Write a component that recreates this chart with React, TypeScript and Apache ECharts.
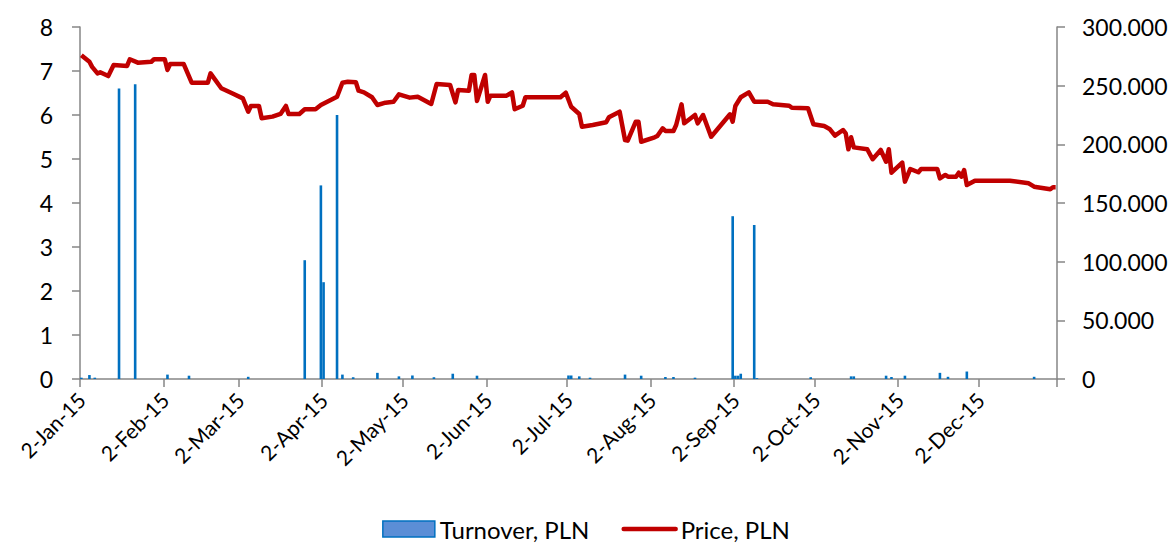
import React, { useEffect, useRef } from "react";
import * as echarts from "echarts";

// Axis domain: every calendar day from 2 Jan 2015 to 30 Dec 2015
const firstDay = "2015-01-02";
const lastDay = "2015-12-30";

// Price, PLN (right axis) — line vertices
const priceDates = [
  "01-02", "01-05", "01-06", "01-08", "01-09", "01-12", "01-14", "01-19", "01-20", "01-23",
  "01-28", "01-29", "02-02", "02-03", "02-04", "02-09", "02-12", "02-18", "02-19", "02-23",
  "02-27", "03-03", "03-05", "03-06", "03-09", "03-10", "03-14", "03-17", "03-19", "03-20",
  "03-24", "03-26", "03-30", "04-01", "04-07", "04-09", "04-11", "04-14", "04-15", "04-17",
  "04-20", "04-22", "04-25", "04-28", "04-30", "05-04", "05-07", "05-12", "05-14", "05-19",
  "05-21", "05-22", "05-26", "05-27", "05-28", "05-29", "06-01", "06-02", "06-03", "06-09",
  "06-11", "06-12", "06-15", "06-16", "06-29", "07-01", "07-03", "07-06", "07-07", "07-11",
  "07-16", "07-17", "07-21", "07-23", "07-24", "07-27", "07-28", "07-29", "08-03", "08-04",
  "08-06", "08-07", "08-10", "08-11", "08-13", "08-14", "08-18", "08-19", "08-21", "08-24",
  "08-31", "09-01", "09-02", "09-04", "09-07", "09-09", "09-14", "09-16", "09-22", "09-23",
  "09-29", "10-01", "10-05", "10-07", "10-09", "10-12", "10-13", "10-14", "10-15", "10-16",
  "10-21", "10-23", "10-26", "10-28", "10-29", "10-30", "11-03", "11-04", "11-06", "11-09",
  "11-10", "11-16", "11-17", "11-19", "11-20", "11-23", "11-24", "11-25", "11-26", "11-27",
  "11-30", "12-13", "12-20", "12-22", "12-28", "12-29", "12-30",
];
const priceValues = [
  276, 270.4, 266, 260.5, 261.4, 258.2, 267.6, 266.8, 272.5, 269.6,
  270.4, 272.5, 272.5, 263.4, 268.5, 268.5, 252.5, 252.5, 260.5, 247.8,
  243.5, 239.2, 227.8, 232.7, 232.7, 222.2, 223.6, 225.9, 232.7, 225.9,
  225.9, 229.9, 229.9, 233.5, 240.6, 252.5, 253.4, 252.9, 245.7, 244.3,
  240.1, 233.5, 235.5, 236.3, 242.6, 239.8, 240.6, 234.4, 251.4, 250.6,
  235.8, 246.3, 245.7, 259.1, 259.1, 237, 259.1, 236.3, 241.5, 241.5,
  244.3, 229.9, 232.9, 240.1, 240.1, 244, 232, 225.9, 215, 216.5,
  218.8, 223, 227.8, 203.7, 203.1, 219.3, 219.3, 202.2, 206, 207.1,
  213.7, 211.4, 211.4, 216.5, 234.1, 217.9, 225, 217.9, 225, 206.5,
  225.6, 219.3, 232.7, 240.1, 244.3, 236.3, 236.3, 234.1, 232.9, 231.2,
  230.7, 217.1, 215.6, 213.1, 207.4, 212.2, 209.4, 195.8, 206, 197.4,
  195.8, 187.3, 195.2, 185.2, 195.8, 175.8, 184.4, 168.2, 179, 176.2,
  179, 179, 171, 173.9, 172.4, 172.4, 175.8, 172.5, 178.1, 165.3,
  169, 169, 166.8, 163.9, 161.7, 163.4, 163.4,
];

// Turnover, PLN (left axis)
const turnoverDates = [
  "01-02", "01-05", "01-07", "01-16", "01-22", "02-03", "02-11", "03-05", "03-26", "04-01",
  "04-02", "04-07", "04-09", "04-13", "04-22", "04-30", "05-05", "05-13", "05-20", "05-29",
  "07-02", "07-03", "07-06", "07-10", "07-23", "07-29", "08-07", "08-10", "08-18", "09-01",
  "09-02", "09-03", "09-04", "09-09", "09-10", "09-30", "10-15", "10-16", "10-28", "10-30",
  "11-04", "11-17", "11-20", "11-27", "12-22",
];
const turnoverValues = [
  0.03, 0.09, 0.03, 6.6, 6.7, 0.1, 0.075, 0.05, 2.7, 4.4,
  2.2, 6.0, 0.1, 0.04, 0.14, 0.06, 0.08, 0.04, 0.12, 0.075,
  0.08, 0.08, 0.06, 0.03, 0.1, 0.075, 0.045, 0.045, 0.03, 3.7,
  0.075, 0.075, 0.12, 3.5, 0.02, 0.04, 0.06, 0.06, 0.075, 0.045,
  0.075, 0.14, 0.05, 0.17, 0.05,
];

const leftTicks = { min: 0, max: 8, interval: 1 };
const rightTicks = { min: 0, max: 300, interval: 50 };

const monthNames = ["Jan", "Feb", "Mar", "Apr", "May", "Jun", "Jul", "Aug", "Sep", "Oct", "Nov", "Dec"];

function buildDays(): string[] {
  const out: string[] = [];
  const start = Date.parse(firstDay + "T00:00:00Z");
  const end = Date.parse(lastDay + "T00:00:00Z");
  for (let t = start; t <= end; t += 86400000) {
    out.push(new Date(t).toISOString().slice(0, 10));
  }
  return out;
}

function fmtDay(iso: string): string {
  const m = parseInt(iso.slice(5, 7), 10);
  const d = parseInt(iso.slice(8, 10), 10);
  return d + "-" + monthNames[m - 1] + "-" + iso.slice(2, 4);
}

const FONT = "Lato, 'Open Sans', sans-serif";

export default function App() {
  const ref = useRef<HTMLDivElement>(null);

  useEffect(() => {
    if (!ref.current) return;
    const chart = echarts.init(ref.current, undefined, { renderer: "svg" });
    const days = buildDays();
    const priceMap = new Map<string, number>();
    priceDates.forEach((d, i) => priceMap.set("2015-" + d, priceValues[i]));
    const turnMap = new Map<string, number>();
    turnoverDates.forEach((d, i) => turnMap.set("2015-" + d, turnoverValues[i]));
    const lineData = days.map((d) => (priceMap.has(d) ? priceMap.get(d)! : null));
    const barData = days.map((d) => (turnMap.has(d) ? turnMap.get(d)! : null));
    const isSecond = (idx: number) => days[idx].slice(8, 10) === "02";

    const axisLine = { show: true, lineStyle: { color: "#868686", width: 1.5 } };

    chart.setOption({
      animation: false,
      textStyle: { fontFamily: FONT },
      grid: { left: 80, right: 115, top: 27, bottom: 166, containLabel: false },
      legend: {
        bottom: 3,
        padding: 0,
        left: "center",
        itemWidth: 52,
        itemHeight: 16,
        itemGap: 32,
        textStyle: { fontSize: 24, lineHeight: 26, color: "#000", fontFamily: FONT },
        data: [
          {
            name: "Turnover, PLN",
            icon: "rect",
            itemStyle: { color: "#5B8ED6", borderColor: "#0070C0", borderWidth: 1.5 },
          },
          {
            name: "Price, PLN",
            itemStyle: { opacity: 0, color: "rgba(0,0,0,0)", borderColor: "rgba(0,0,0,0)" },
            lineStyle: { width: 4.5, color: "#C00000", cap: "round" },
          },
        ],
      },
      xAxis: {
        type: "category",
        data: days,
        boundaryGap: true,
        axisLine,
        axisTick: {
          show: true,
          length: 8,
          lineStyle: { color: "#868686", width: 1.5 },
          interval: (idx: number) => isSecond(idx),
        },
        axisLabel: {
          interval: (idx: number) => isSecond(idx),
          rotate: 45,
          margin: 17,
          fontSize: 21,
          color: "#000",
          fontFamily: FONT,
          formatter: (v: string) => fmtDay(v),
        },
        splitLine: { show: false },
      },
      yAxis: [
        {
          type: "value",
          position: "left",
          ...leftTicks,
          axisLine,
          axisTick: { show: true, length: 8, lineStyle: { color: "#868686", width: 1.5 } },
          axisLabel: { fontSize: 23, color: "#000", margin: 27, fontFamily: FONT },
          splitLine: { show: false },
        },
        {
          type: "value",
          position: "right",
          ...rightTicks,
          axisLine,
          axisTick: { show: true, length: 8, lineStyle: { color: "#868686", width: 1.5 } },
          axisLabel: {
            fontSize: 23,
            color: "#000",
            margin: 25,
            fontFamily: FONT,
            formatter: (v: number) => (v === 0 ? "0" : v.toFixed(3)),
          },
          splitLine: { show: false },
        },
      ],
      series: [
        {
          name: "Turnover, PLN",
          type: "bar",
          yAxisIndex: 0,
          data: barData,
          barWidth: 2.6,
          itemStyle: { color: "#0070C0" },
        },
        {
          name: "Price, PLN",
          type: "line",
          yAxisIndex: 1,
          data: lineData,
          connectNulls: true,
          symbol: "none",
          showSymbol: false,
          lineStyle: { color: "#C00000", width: 4.5, join: "round" },
          itemStyle: { color: "#C00000" },
        },
      ],
    });
    return () => chart.dispose();
  }, []);

  return (
    <div
      ref={ref}
      style={{ position: "fixed", left: 0, top: 0, width: 1172, height: 545, background: "#fff" }}
    />
  );
}
